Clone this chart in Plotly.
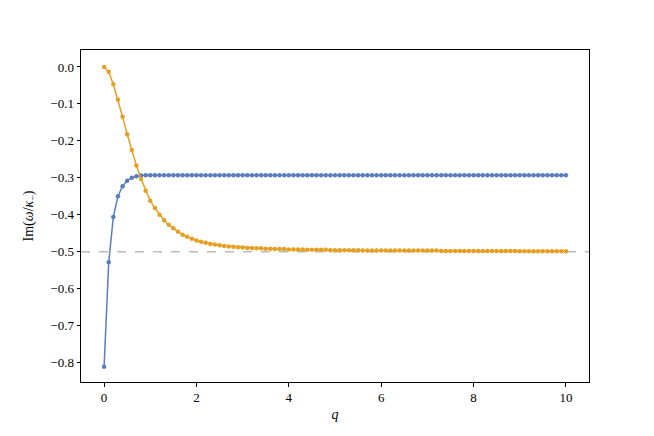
import plotly.graph_objects as go

# q grid, step 0.1
q = [
    0.0, 0.1, 0.2, 0.3, 0.4, 0.5, 0.6, 0.7, 0.8, 0.9,
    1.0, 1.1, 1.2, 1.3, 1.4, 1.5, 1.6, 1.7, 1.8, 1.9,
    2.0, 2.1, 2.2, 2.3, 2.4, 2.5, 2.6, 2.7, 2.8, 2.9,
    3.0, 3.1, 3.2, 3.3, 3.4, 3.5, 3.6, 3.7, 3.8, 3.9,
    4.0, 4.1, 4.2, 4.3, 4.4, 4.5, 4.6, 4.7, 4.8, 4.9,
    5.0, 5.1, 5.2, 5.3, 5.4, 5.5, 5.6, 5.7, 5.8, 5.9,
    6.0, 6.1, 6.2, 6.3, 6.4, 6.5, 6.6, 6.7, 6.8, 6.9,
    7.0, 7.1, 7.2, 7.3, 7.4, 7.5, 7.6, 7.7, 7.8, 7.9,
    8.0, 8.1, 8.2, 8.3, 8.4, 8.5, 8.6, 8.7, 8.8, 8.9,
    9.0, 9.1, 9.2, 9.3, 9.4, 9.5, 9.6, 9.7, 9.8, 9.9,
    10.0,
]

# first branch (blue)
im_branch1 = [
    -0.812, -0.529, -0.406, -0.350, -0.323, -0.308, -0.300, -0.296, -0.294, -0.293,
    -0.293, -0.293, -0.293, -0.293, -0.293, -0.293, -0.293, -0.293, -0.293, -0.293,
    -0.293, -0.293, -0.293, -0.293, -0.293, -0.293, -0.293, -0.293, -0.293, -0.293,
    -0.293, -0.293, -0.293, -0.293, -0.293, -0.293, -0.293, -0.293, -0.293, -0.293,
    -0.293, -0.293, -0.293, -0.293, -0.293, -0.293, -0.293, -0.293, -0.293, -0.293,
    -0.293, -0.293, -0.293, -0.293, -0.293, -0.293, -0.293, -0.293, -0.293, -0.293,
    -0.293, -0.293, -0.293, -0.293, -0.293, -0.293, -0.293, -0.293, -0.293, -0.293,
    -0.293, -0.293, -0.293, -0.293, -0.293, -0.293, -0.293, -0.293, -0.293, -0.293,
    -0.293, -0.293, -0.293, -0.293, -0.293, -0.293, -0.293, -0.293, -0.293, -0.293,
    -0.293, -0.293, -0.293, -0.293, -0.293, -0.293, -0.293, -0.293, -0.293, -0.293,
    -0.293,
]

# second branch (orange)
im_branch2 = [
    0.000, -0.013, -0.047, -0.089, -0.135, -0.182, -0.225, -0.267, -0.303, -0.335,
    -0.362, -0.382, -0.400, -0.415, -0.427, -0.437, -0.446, -0.454, -0.460, -0.465,
    -0.470, -0.473, -0.476, -0.479, -0.481, -0.483, -0.485, -0.486, -0.487, -0.488,
    -0.489, -0.490, -0.490, -0.491, -0.491, -0.492, -0.492, -0.493, -0.493, -0.493,
    -0.494, -0.494, -0.494, -0.494, -0.495, -0.495, -0.495, -0.495, -0.495, -0.496,
    -0.496, -0.496, -0.496, -0.496, -0.496, -0.496, -0.497, -0.497, -0.497, -0.497,
    -0.497, -0.497, -0.497, -0.497, -0.497, -0.497, -0.497, -0.497, -0.497, -0.497,
    -0.497, -0.497, -0.497, -0.498, -0.498, -0.498, -0.498, -0.498, -0.498, -0.498,
    -0.498, -0.498, -0.498, -0.498, -0.498, -0.498, -0.498, -0.498, -0.498, -0.498,
    -0.499, -0.499, -0.499, -0.499, -0.499, -0.499, -0.499, -0.499, -0.499, -0.499,
    -0.499,
]

asymptote = -0.5

y_ticks = [0.0, -0.1, -0.2, -0.3, -0.4, -0.5, -0.6, -0.7, -0.8]
y_labels = ["0.0", "\u22120.1", "\u22120.2", "\u22120.3", "\u22120.4",
            "\u22120.5", "\u22120.6", "\u22120.7", "\u22120.8"]
x_ticks = [0, 2, 4, 6, 8, 10]

font = "Liberation Serif, DejaVu Serif, serif"

fig = go.Figure()

fig.add_trace(go.Scatter(
    x=q, y=im_branch1, mode="lines+markers",
    line=dict(color="#5A7EBB", width=1.5),
    marker=dict(color="#5A7EBB", size=4.5),
    showlegend=False,
))
fig.add_trace(go.Scatter(
    x=q, y=im_branch2, mode="lines+markers",
    line=dict(color="#E5A023", width=1.5),
    marker=dict(color="#E5A023", size=4.5),
    showlegend=False,
))

# dashed reference line at -1/2
fig.add_shape(
    type="line", xref="paper", x0=0, x1=1, yref="y", y0=asymptote, y1=asymptote,
    line=dict(color="#BBBBBB", width=1.5, dash="dash"), layer="below",
)

axis_common = dict(
    showgrid=False, zeroline=False, showline=True, linecolor="black", linewidth=1,
    mirror=True, ticks="outside", ticklen=3.5, tickwidth=0.8, tickcolor="black",
    tickfont=dict(size=13, color="black", family=font),
)

fig.update_xaxes(
    range=[-0.5, 10.5], tickvals=x_ticks,
    title=dict(text="<i>q</i>", font=dict(size=14, color="black", family=font), standoff=5),
    **axis_common,
)
fig.update_yaxes(
    range=[-0.853, 0.046], tickvals=y_ticks, ticktext=y_labels,
    title=dict(text="Im(<i>ω</i>/<i>κ</i><sub>−</sub>)",
               font=dict(size=14, color="black", family=font), standoff=13),
    **axis_common,
)

# the page puts the figure 8px in from the corner, so margins absorb that
fig.update_layout(
    width=654, height=436,
    margin=dict(l=73, r=73, t=42, b=62),
    plot_bgcolor="white", paper_bgcolor="white",
    font=dict(family=font, color="black"),
)

fig.write_html("out.html")
